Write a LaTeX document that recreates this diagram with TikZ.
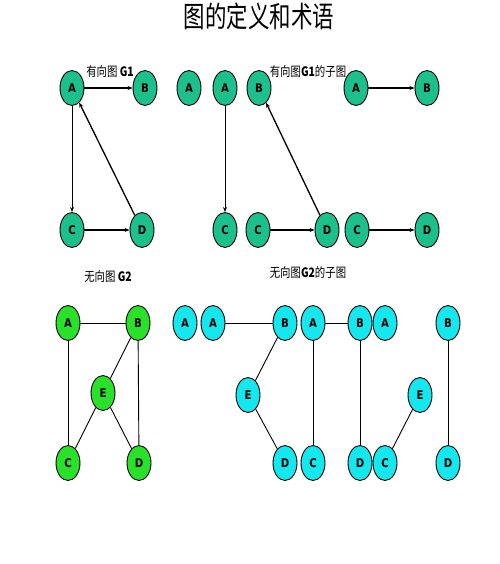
\documentclass[tikz,border=0pt]{standalone}
\usepackage{fontspec}
\setmainfont{Liberation Sans}
\newfontfamily\cjk{Noto Sans CJK SC}
\newfontfamily\nodefont{DejaVu Sans}
\usetikzlibrary{shapes.geometric,arrows.meta}
\definecolor{teal1}{RGB}{28,192,140}
\definecolor{grn1}{RGB}{40,225,40}
\definecolor{cyan1}{RGB}{20,232,238}
\tikzset{
  vbase/.style={ellipse,draw=black,line width=0.9pt,minimum width=24pt,minimum height=35pt,inner sep=0pt,font=\nodefont\bfseries\fontsize{12}{12}\selectfont},
  vt/.style={vbase,fill=teal1},
  vg/.style={vbase,fill=grn1},
  vc/.style={vbase,fill=cyan1},
  arr/.style={line width=1.3pt,-{Stealth[length=5pt,width=4pt]}},
  thinarr/.style={line width=0.9pt,-{Stealth[length=5pt,width=4pt]}},
  und/.style={line width=0.9pt},
  lab/.style={inner sep=0pt,font=\fontsize{13}{13}\selectfont}
}
\newcommand{\nl}[1]{\scalebox{0.85}[1]{#1}}
\begin{document}
\begin{tikzpicture}[x=1pt,y=-1pt]
\useasboundingbox (0,0) rectangle (499,564);
\node[inner sep=0pt] (title) at (259,16) {\cjk\fontsize{29}{29}\selectfont\scalebox{0.74}[1]{图的定义和术语}};
% top-left G1
\node[lab] (l1) at (110,72) {\scalebox{0.8}[1]{\cjk 有向图 \textbf{G1}}};
\node[vt] (a1) at (72,88) {\nl{A}};
\node[vt] (b1) at (145,88) {\nl{B}};
\node[vt] (c1) at (72,230) {\nl{C}};
\node[vt] (d1) at (142,230) {\nl{D}};
\draw[arr] (a1) -- (b1);
\draw[thinarr] (a1) -- (c1);
\draw[arr] (c1) -- (d1);
\draw[arr] (d1) -- (a1);
% subgraphs G1
\node[lab] (l2) at (308,72) {\scalebox{0.8}[1]{\cjk 有向图\textbf{G1}的子图}};
\node[vt] (s1a) at (189,88) {\nl{A}};
\node[vt] (s2a) at (225,88) {\nl{A}};
\node[vt] (s2c) at (225,230) {\nl{C}};
\node[vt] (s3b) at (259,88) {\nl{B}};
\node[vt] (s3c) at (258,230) {\nl{C}};
\node[vt] (s3d) at (327,230) {\nl{D}};
\node[vt] (s4a) at (356,88) {\nl{A}};
\node[vt] (s4b) at (427,88) {\nl{B}};
\node[vt] (s5c) at (357,230) {\nl{C}};
\node[vt] (s5d) at (427,230) {\nl{D}};
\draw[thinarr] (s2a) -- (s2c);
\draw[arr] (s3d) -- (s3b);
\draw[arr] (s3c) -- (s3d);
\draw[arr] (s4a) -- (s4b);
\draw[arr] (s5c) -- (s5d);
% G2
\node[lab] (l3) at (108,277) {\scalebox{0.8}[1]{\cjk 无向图 \textbf{G2}}};
\node[vg] (ga) at (68,323) {\nl{A}};
\node[vg] (gb) at (138,323) {\nl{B}};
\node[vg] (ge) at (103,393) {\nl{E}};
\node[vg] (gc) at (68,463) {\nl{C}};
\node[vg] (gd) at (139,463) {\nl{D}};
\draw[und] (ga) -- (gb);
\draw[und] (ga) -- (gc);
\draw[und] (gb) -- (ge);
\draw[und] (gb) -- (gd);
\draw[und] (ge) -- (gc);
\draw[und] (ge) -- (gd);
% subgraphs G2
\node[lab] (l4) at (308,273) {\scalebox{0.8}[1]{\cjk 无向图\textbf{G2}的子图}};
\node[vc] (u1a) at (185,323) {\nl{A}};
\node[vc] (u2a) at (213,323) {\nl{A}};
\node[vc] (u2b) at (285,323) {\nl{B}};
\node[vc] (u2e) at (248,395) {\nl{E}};
\node[vc] (u2d) at (285,463) {\nl{D}};
\node[vc] (u3a) at (313,323) {\nl{A}};
\node[vc] (u3c) at (313,463) {\nl{C}};
\node[vc] (u3b) at (360,323) {\nl{B}};
\node[vc] (u3d) at (360,463) {\nl{D}};
\node[vc] (u4a) at (385,323) {\nl{A}};
\node[vc] (u4e) at (420,395) {\nl{E}};
\node[vc] (u4c) at (385,463) {\nl{C}};
\node[vc] (u5b) at (448,323) {\nl{B}};
\node[vc] (u5d) at (448,463) {\nl{D}};
\draw[und] (u2a) -- (u2b);
\draw[und] (u2b) -- (u2e);
\draw[und] (u2e) -- (u2d);
\draw[und] (u3a) -- (u3c);
\draw[und] (u3a) -- (u3b);
\draw[und] (u3b) -- (u3d);
\draw[und] (u4e) -- (u4c);
\draw[und] (u5b) -- (u5d);
\end{tikzpicture}
\end{document}
